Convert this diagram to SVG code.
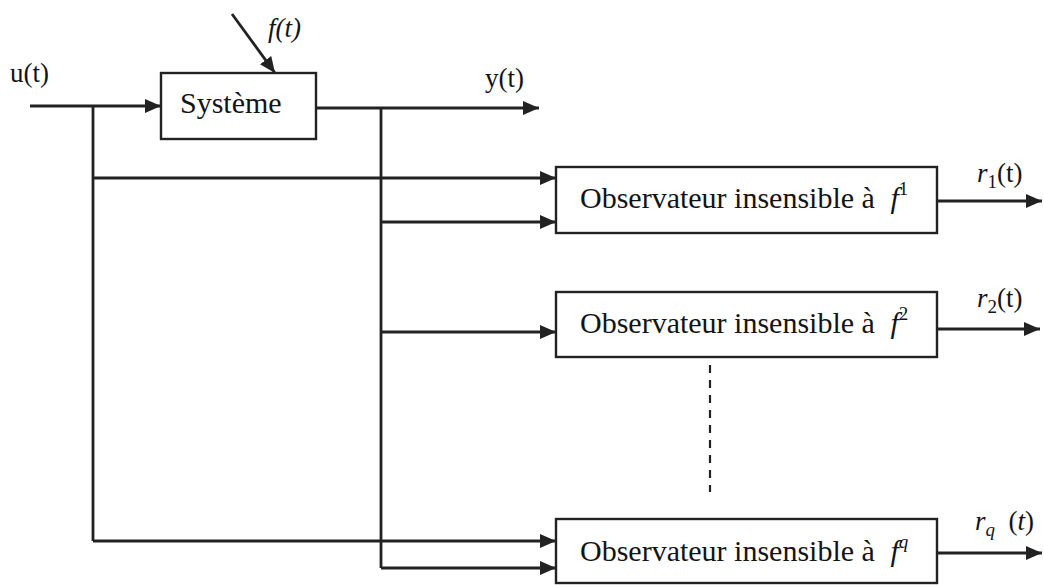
<svg xmlns="http://www.w3.org/2000/svg" width="1044" height="585" viewBox="0 0 1044 585">
<style>
.box{fill:#fff;stroke:#222;stroke-width:2.4}
.ln{fill:none;stroke:#222;stroke-width:2.8}
.arr{fill:none;stroke:#222;stroke-width:2.8;marker-end:url(#ah)}
.dash{fill:none;stroke:#222;stroke-width:2.2;stroke-dasharray:8,7}
text{font-family:"Liberation Serif","Times New Roman",serif;fill:#141414}
.big{font-size:30px}
.lbl{font-size:27px}
.it{font-style:italic}
.sup{font-size:19px}
</style>
<defs>
<marker id="ah" viewBox="0 0 16 14" refX="16" refY="7" markerWidth="16" markerHeight="14" markerUnits="userSpaceOnUse" orient="auto">
<path d="M0,0 L16,7 L0,14 Z" fill="#222"/>
</marker>
</defs>

<g id="connectors">
<line class="arr" x1="30" y1="106" x2="161" y2="106"/>
<line class="arr" x1="232" y1="14" x2="275" y2="73"/>
<line class="arr" x1="316" y1="108" x2="539" y2="108"/>
<polyline class="ln" points="93,106 93,541"/>
<polyline class="ln" points="381,108 381,568"/>
<line class="arr" x1="93" y1="178" x2="556" y2="178"/>
<line class="arr" x1="381" y1="222" x2="556" y2="222"/>
<line class="arr" x1="381" y1="332" x2="556" y2="332"/>
<line class="arr" x1="93" y1="541" x2="556" y2="541"/>
<line class="arr" x1="381" y1="568" x2="556" y2="568"/>
<line class="arr" x1="937" y1="201" x2="1042" y2="201"/>
<line class="arr" x1="937" y1="329" x2="1040" y2="329"/>
<line class="arr" x1="937" y1="553" x2="1042" y2="553"/>
<line class="dash" x1="710" y1="365" x2="710" y2="492"/>
</g>

<g id="labels">
<text class="lbl" x="10" y="82">u(t)</text>
<text class="lbl it" x="268" y="37">f(t)</text>
<text class="lbl" x="485" y="87">y(t)</text>
<text class="lbl" x="977" y="182"><tspan class="it">r</tspan><tspan class="sup" dy="6">1</tspan><tspan dy="-6">(t)</tspan></text>
<text class="lbl" x="977" y="307"><tspan class="it">r</tspan><tspan class="sup" dy="6">2</tspan><tspan dy="-6">(t)</tspan></text>
<text class="lbl" x="975" y="530"><tspan class="it">r</tspan><tspan class="it sup" dy="6">q</tspan><tspan dy="-6" xml:space="preserve">  (</tspan><tspan class="it">t</tspan><tspan>)</tspan></text>
</g>

<g id="systeme">
<rect class="box" x="161" y="73" width="155" height="66"/>
<text class="big" x="180" y="113">Système</text>
</g>

<g id="obs1">
<rect class="box" x="556" y="167" width="381" height="66"/>
<text class="big" x="580" y="208">Observateur insensible à <tspan class="it" dx="8">f</tspan><tspan class="sup" dy="-13">1</tspan></text>
</g>

<g id="obs2">
<rect class="box" x="556" y="292" width="381" height="65"/>
<text class="big" x="580" y="333">Observateur insensible à <tspan class="it" dx="8">f</tspan><tspan class="sup" dy="-13">2</tspan></text>
</g>

<g id="obsq">
<rect class="box" x="556" y="519" width="381" height="64"/>
<text class="big" x="580" y="561">Observateur insensible à <tspan class="it" dx="8">f</tspan><tspan class="it sup" dy="-13">q</tspan></text>
</g>
</svg>
